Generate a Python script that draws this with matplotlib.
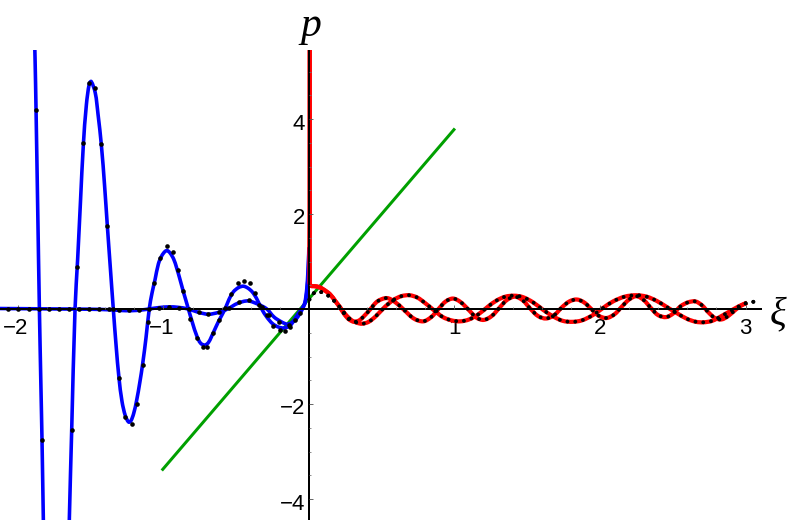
import numpy as np
import matplotlib
matplotlib.use("Agg")
import matplotlib.pyplot as plt
from matplotlib.path import Path
from matplotlib.patches import PathPatch

# ---------------- data ----------------
# large blue curve (xi < 0)
b1_x = [-1.893, -1.883, -1.876, -1.865, -1.853, -1.842, -1.835, -1.826, -1.815,
        -1.78, -1.74, -1.69, -1.657, -1.647, -1.631, -1.608, -1.59, -1.57, -1.551,
        -1.53, -1.51, -1.497, -1.469, -1.45, -1.427, -1.405, -1.386, -1.365, -1.345,
        -1.325, -1.306, -1.285, -1.262, -1.24, -1.225, -1.205, -1.185, -1.163, -1.143,
        -1.12, -1.098, -1.078, -1.058, -1.035, -1.012, -0.99, -0.975, -0.955, -0.93,
        -0.91, -0.89, -0.864, -0.845, -0.829, -0.80, -0.772, -0.745, -0.715, -0.69,
        -0.658, -0.62, -0.577, -0.55, -0.52, -0.485, -0.451, -0.42, -0.39, -0.36,
        -0.325, -0.29, -0.25, -0.21, -0.17, -0.13, -0.10, -0.07, -0.05, -0.03,
        -0.016, -0.008, -0.003, -0.001]
b1_p = [6.5, 5.3, 4.19, 2.2, 0.0, -1.7, -2.76, -4.4, -6.3,
        -8.5, -9.2, -8.0, -5.8, -4.4, -2.55, 0.0, 1.05, 2.3, 3.45,
        4.3, 4.74, 4.79, 4.55, 4.1, 3.45, 2.6, 1.75, 0.85, 0.0,
        -0.8, -1.45, -1.95, -2.25, -2.38, -2.36, -2.2, -1.93, -1.55, -1.15,
        -0.6, 0.0, 0.35, 0.62, 0.95, 1.12, 1.21, 1.23, 1.18, 1.05,
        0.87, 0.66, 0.37, 0.17, 0.0, -0.3, -0.56, -0.72, -0.76, -0.7,
        -0.5, -0.25, 0.0, 0.2, 0.36, 0.45, 0.48, 0.44, 0.36, 0.22,
        0.0, -0.17, -0.31, -0.38, -0.40, -0.35, -0.22, -0.08, 0.0, 0.12,
        0.4, 0.75, 1.05, 1.3]

# small blue curve (xi < 0)
b2_x = [-2.124, -1.9, -1.7, -1.5, -1.38, -1.3, -1.22, -1.15, -1.10, -1.03, -0.96,
        -0.9, -0.83, -0.76, -0.69, -0.62, -0.56, -0.49, -0.42, -0.35, -0.29, -0.24,
        -0.19, -0.15, -0.12, -0.09, -0.06, -0.045, -0.025, -0.012, -0.005, -0.001]
b2_p = [0.01, 0.005, 0.0, -0.005, -0.015, -0.03, -0.035, -0.02, 0.0, 0.03, 0.045,
        0.035, 0.0, -0.07, -0.11, -0.07, 0.0, 0.12, 0.17, 0.1, 0.0, -0.17,
        -0.27, -0.32, -0.29, -0.22, -0.08, 0.0, 0.15, 0.45, 0.8, 1.2]

# black sample points on the blue curves
d1_x = [-1.876, -1.835, -1.630, -1.592, -1.551, -1.510, -1.469, -1.427, -1.386,
        -1.345, -1.306, -1.265, -1.219, -1.185, -1.143, -1.104, -1.063, -1.024,
        -0.978, -0.937, -0.898, -0.864, -0.815, -0.772, -0.731, -0.699, -0.658,
        -0.617, -0.577, -0.536, -0.486, -0.447, -0.405, -0.371, -0.325, -0.291,
        -0.245, -0.200, -0.165, -0.130, -0.096, -0.062]
d1_p = [4.19, -2.76, -2.55, 0.88, 3.50, 4.75, 4.65, 3.48, 1.75,
        0.0, -1.46, -2.27, -2.42, -1.99, -1.18, -0.27, 0.55, 1.07,
        1.33, 1.19, 0.83, 0.37, -0.2, -0.60, -0.81, -0.81, -0.50,
        -0.23, 0.02, 0.32, 0.54, 0.59, 0.54, 0.33, 0.04, -0.13,
        -0.36, -0.44, -0.46, -0.37, -0.23, -0.09]
d2_x = [-2.067, -1.998, -1.924, -1.856, -1.787, -1.718, -1.649, -1.581, -1.512,
        -1.443, -1.375, -1.306, -1.237, -1.168, -1.100, -1.031, -0.962, -0.894,
        -0.825, -0.756, -0.692, -0.619, -0.550, -0.481, -0.413, -0.344, -0.275,
        -0.206, -0.138]
d2_p = [0.01, 0.0, 0.0, 0.0, 0.0, 0.0, 0.0, 0.0, 0.0,
        -0.005, -0.01, -0.02, -0.03, -0.02, 0.0, 0.03, 0.05, 0.03,
        -0.01, -0.07, -0.11, -0.07, 0.02, 0.14, 0.18, 0.08, -0.12,
        -0.28, -0.33]

# red curves (xi > 0)
rf_x = [0.005, 0.005, 0.005, 0.012, 0.04, 0.07, 0.10, 0.144, 0.18, 0.213, 0.245,
        0.275, 0.31, 0.345, 0.375, 0.42, 0.47, 0.535, 0.59, 0.65, 0.72, 0.785, 0.84,
        0.89, 0.94, 0.99, 1.04, 1.095, 1.15, 1.20, 1.255, 1.31, 1.36, 1.415, 1.47,
        1.52, 1.575, 1.63, 1.685, 1.74, 1.79, 1.84, 1.89, 1.94, 1.99, 2.045, 2.10,
        2.15, 2.20, 2.25, 2.30, 2.35, 2.40, 2.455, 2.505, 2.555, 2.605, 2.655, 2.70,
        2.745, 2.79, 2.835, 2.88, 2.93, 2.975, 3.01]
rf_p = [6.0, 2.0, 0.56, 0.49, 0.48, 0.46, 0.41, 0.31, 0.17, 0.03, -0.12,
        -0.22, -0.27, -0.24, -0.16, -0.01, 0.16, 0.23, 0.15, -0.01, -0.20, -0.26, -0.17,
        0.0, 0.16, 0.22, 0.15, -0.01, -0.18, -0.23, -0.15, 0.03, 0.19, 0.26, 0.18,
        0.01, -0.15, -0.20, -0.13, 0.04, 0.16, 0.20, 0.14, 0.0, -0.14, -0.19, -0.11,
        0.05, 0.20, 0.27, 0.19, 0.02, -0.13, -0.17, -0.09, 0.06, 0.14, 0.16, 0.08,
        -0.07, -0.19, -0.22, -0.15, -0.02, 0.08, 0.13]
rs_x = [0.005, 0.005, 0.005, 0.012, 0.04, 0.07, 0.10, 0.144, 0.18, 0.213, 0.25,
        0.29, 0.33, 0.365, 0.41, 0.46, 0.52, 0.58, 0.635, 0.69, 0.745, 0.80, 0.86,
        0.92, 0.98, 1.04, 1.10, 1.165, 1.23, 1.29, 1.35, 1.41, 1.47, 1.54, 1.61,
        1.68, 1.745, 1.81, 1.875, 1.95, 2.02, 2.09, 2.17, 2.25, 2.32, 2.39, 2.46,
        2.53, 2.60, 2.66, 2.71, 2.77, 2.84, 2.92, 2.97, 3.01]
rs_p = [6.0, 2.0, 0.56, 0.49, 0.48, 0.46, 0.41, 0.31, 0.17, 0.04, -0.11,
        -0.23, -0.29, -0.31, -0.27, -0.15, 0.04, 0.19, 0.27, 0.29, 0.24, 0.12, -0.03,
        -0.17, -0.24, -0.26, -0.22, -0.11, 0.05, 0.18, 0.26, 0.28, 0.25, 0.14, -0.02,
        -0.16, -0.25, -0.27, -0.24, -0.13, 0.02, 0.16, 0.26, 0.29, 0.26, 0.17, 0.04,
        -0.09, -0.21, -0.27, -0.28, -0.25, -0.14, 0.0, 0.08, 0.13]
# start and end of the dotted (numerical) traces on the red curves
ds_x = [0.003, 0.02, 0.05, 0.08, 0.115, 0.15]
ds_p = [0.20, 0.30, 0.36, 0.36, 0.31, 0.24]
de_x = [3.04, 3.08]
de_p = [0.15, 0.15]

# straight green line
g_x = [-1.012, 1.003]
g_p = [-3.40, 3.80]

x_major = [-2, -1, 1, 2, 3]
y_major = [-4, -2, 2, 4]
x_labels = ["\u22122", "\u22121", "1", "2", "3"]
y_labels = ["\u22124", "\u22122", "2", "4"]

# ---------------- layout ----------------
W, H = 789, 523
X0PX, Y0PX = 309.0, 309.0
SX, SY = 145.5, 47.5
TOP_PX, BOT_PX = 50, 520

fig = plt.figure(figsize=(W / 100, H / 100), dpi=100)
ax = fig.add_axes([0, (H - BOT_PX) / H, 1, (BOT_PX - TOP_PX) / H])
ax.set_xlim(-X0PX / SX, (W - X0PX) / SX)
ax.set_ylim((Y0PX - BOT_PX) / SY, (Y0PX - TOP_PX) / SY)
ax.axis("off")


def smooth(xs, ys):
    P = np.column_stack([np.asarray(xs, float), np.asarray(ys, float)])
    S = np.array([SX, SY])
    d = np.linalg.norm(np.diff(P * S, axis=0), axis=1)
    d[d == 0] = 1e-6
    n = len(P)
    T = np.zeros_like(P)
    for i in range(n):
        if i == 0:
            T[i] = (P[1] - P[0]) / d[0]
        elif i == n - 1:
            T[i] = (P[-1] - P[-2]) / d[-1]
        else:
            T[i] = (P[i + 1] - P[i - 1]) / (d[i - 1] + d[i])
    verts = [P[0]]
    codes = [Path.MOVETO]
    for i in range(n - 1):
        verts += [P[i] + T[i] * d[i] / 3, P[i + 1] - T[i + 1] * d[i] / 3, P[i + 1]]
        codes += [Path.CURVE4] * 3
    return Path(np.array(verts), codes)


def draw(xs, ys, color, lw, z, ls="solid", cap="butt"):
    patch = PathPatch(smooth(xs, ys), fill=False, edgecolor=color, linewidth=lw,
                      linestyle=ls, zorder=z)
    patch.set_capstyle(cap)
    patch.set_joinstyle("round")
    ax.add_patch(patch)


PX = 0.72  # points per pixel

# green line
ax.plot(g_x, g_p, color="#00A000", lw=3.0 * PX, solid_capstyle="butt", zorder=2)

# blue curves
draw(b2_x, b2_p, "#0000FF", 3.6 * PX, 3)
draw(b1_x, b1_p, "#0000FF", 3.6 * PX, 3)

# red curves
draw(rs_x, rs_p, "#FF0000", 4.2 * PX, 4)
draw(rf_x, rf_p, "#FF0000", 4.2 * PX, 4)

# axes lines
ax.plot([-X0PX / SX, (762 - X0PX) / SX], [0, 0], color="black", lw=2.0 * PX, zorder=5,
        solid_capstyle="butt")
ax.plot([0, 0], [(Y0PX - BOT_PX) / SY, (Y0PX - TOP_PX) / SY], color="black",
        lw=2.0 * PX, zorder=5, solid_capstyle="butt")

# ticks
x_minor = [v for v in np.round(np.arange(-2.0, 3.11, 0.2), 2) if abs(v - round(v)) > 1e-6]
y_minor = [v for v in np.arange(-4.0, 5.01, 0.5) if abs(v) > 1e-6 and abs(v / 2 - round(v / 2)) > 1e-6]
ax.vlines(x_major, 0, 4.5 / SY, color="0.35", lw=0.9 * PX, zorder=5)
ax.vlines(x_minor, 0, 2.5 / SY, color="0.45", lw=0.8 * PX, zorder=5)
ax.hlines(y_major, 0, 4.5 / SX, color="0.35", lw=0.9 * PX, zorder=5)
ax.hlines(y_minor, 0, 2.5 / SX, color="0.45", lw=0.8 * PX, zorder=5)

# dotted numerical traces
dot_style = (0, (0.01, 2.0))
fx = ds_x + [x for x in rf_x if x > 0.18] + de_x
fp = ds_p + [p for x, p in zip(rf_x, rf_p) if x > 0.18] + de_p
sx_ = ds_x + [x for x in rs_x if x > 0.18] + de_x
sp_ = ds_p + [p for x, p in zip(rs_x, rs_p) if x > 0.18] + de_p
draw(fx, fp, "black", 3.9 * PX, 6, ls=dot_style, cap="round")
draw(sx_, sp_, "black", 3.9 * PX, 6, ls=dot_style, cap="round")

ax.plot(d1_x, d1_p, "o", color="black", ms=4.6 * PX, mew=0, zorder=6)
ax.plot(d2_x, d2_p, "o", color="black", ms=4.6 * PX, mew=0, zorder=6)

# tick labels
lab_font = dict(family=["Liberation Sans", "DejaVu Sans"], fontsize=16)
for v, s in zip(x_major, x_labels):
    dx = -2.0 / SX if v < 0 else 0.0
    ax.text(v + dx, -(333.5 - Y0PX) / SY, s, ha="center", va="baseline", clip_on=False, **lab_font)
for v, s in zip(y_major, y_labels):
    ax.text(-(X0PX - 305) / SX, v - 10.5 / SY, s, ha="right", va="baseline", clip_on=False, **lab_font)

# axis labels
ax.text((311 - X0PX) / SX, (Y0PX - 36) / SY, "p", ha="center", va="baseline",
        family=["Liberation Serif", "DejaVu Serif"], style="italic", fontsize=30, clip_on=False)
ax.text((778 - X0PX) / SX, (Y0PX - 324) / SY, "\u03be", ha="center", va="baseline",
        family=["Liberation Serif", "DejaVu Serif"], style="italic", fontsize=28, clip_on=False)

fig.savefig("out.png", dpi=100)
